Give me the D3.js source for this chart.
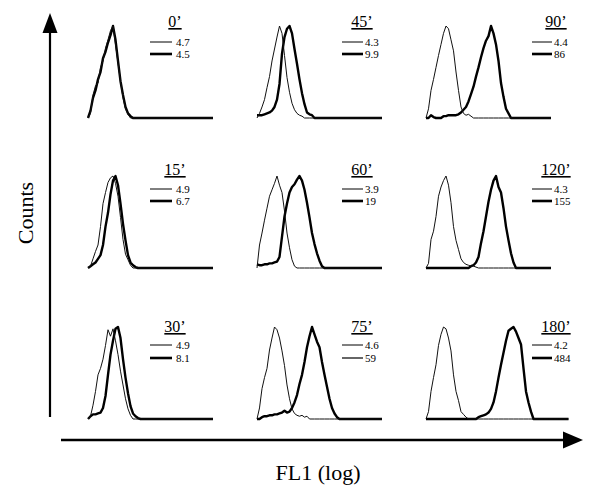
<!DOCTYPE html>
<html><head><meta charset="utf-8">
<script src="https://cdn.jsdelivr.net/npm/d3@7"></script>
<style>body{margin:0;background:#fff} svg{display:block}</style>
</head><body><svg id="c" width="600" height="500"></svg>
<script>
// ---------- DATA ----------
// Panels in reading order (row by row)
const timeLabels = ["0\u2019", "45\u2019", "90\u2019", "15\u2019", "60\u2019", "120\u2019", "30\u2019", "75\u2019", "180\u2019"];
const controlMFI = ["4.7", "4.3", "4.4", "4.9", "3.9", "4.3", "4.9", "4.6", "4.2"];
const sampleMFI  = ["4.5", "9.9", "86", "6.7", "19", "155", "8.1", "59", "484"];

// Histogram counts (% of peak) per FL1 channel bin, starting at given bin
const controlStart = [0, 0, 0, 0, 0, 0, 0, 0, 0];
const controlCounts = [
  [0, 5, 25, 35, 38, 55, 62, 76, 85, 95, 100, 80, 60, 40, 22, 10, 4, 0],
  [0, 5, 12, 20, 33, 45, 62, 75, 88, 100, 92, 68, 44, 28, 16, 9, 5, 3, 2, 0],
  [0, 10, 30, 42, 55, 68, 80, 92, 100, 97, 85, 73, 50, 30, 12, 5, 3, 4, 2, 0],
  [0, 2, 10, 18, 25, 45, 70, 82, 93, 98, 100, 92, 78, 55, 31, 15, 9, 3, 0],
  [0, 25, 38, 52, 65, 78, 85, 92, 100, 90, 82, 62, 38, 22, 9, 2, 0],
  [0, 5, 31, 40, 56, 78, 88, 95, 100, 90, 71, 45, 30, 20, 10, 6, 4, 3, 2, 2, 1, 0],
  [0, 3, 15, 30, 48, 55, 65, 80, 97, 90, 98, 85, 70, 52, 37, 22, 11, 4, 0],
  [0, 12, 33, 45, 55, 75, 88, 100, 97, 88, 74, 58, 37, 22, 11, 6, 4, 3, 4, 2, 3, 0],
  [0, 8, 30, 45, 59, 80, 92, 100, 98, 88, 74, 48, 30, 20, 8, 5, 2, 0]
];
const sampleStart = [0, 0, 0, 0, 0, 17, 0, 0, 20];
const sampleCounts = [
  [0, 8, 22, 30, 42, 50, 65, 72, 82, 90, 100, 85, 62, 40, 25, 12, 5, 2, 0],
  [3, 3, 3, 4, 5, 6, 8, 12, 20, 37, 70, 88, 97, 100, 92, 75, 59, 42, 27, 15, 6, 4, 3, 0],
  [0, 0, 3, 1, 0, 0, 0, 2, 2, 3, 3, 3, 3, 4, 6, 9, 12, 18, 26, 34, 45, 55, 66, 76, 84, 89, 100, 92, 80, 62, 38, 23, 10, 5, 0],
  [0, 2, 4, 6, 10, 14, 25, 45, 60, 80, 95, 100, 90, 70, 48, 30, 14, 6, 3, 1, 0],
  [4, 3, 3, 4, 4, 5, 5, 6, 7, 12, 34, 56, 70, 82, 88, 91, 96, 100, 95, 85, 71, 55, 38, 26, 16, 8, 2, 0],
  [0, 2, 3, 6, 12, 27, 40, 56, 72, 85, 95, 100, 88, 82, 65, 45, 30, 16, 6, 0],
  [0, 3, 5, 5, 6, 7, 12, 25, 48, 70, 85, 98, 100, 88, 65, 45, 28, 14, 6, 3, 1, 0],
  [0, 0, 2, 3, 3, 4, 4, 5, 5, 6, 7, 9, 7, 8, 12, 18, 26, 38, 48, 62, 78, 90, 100, 92, 84, 78, 62, 48, 35, 22, 12, 6, 2, 0],
  [0, 2, 3, 4, 5, 7, 11, 18, 30, 45, 59, 72, 85, 96, 98, 100, 95, 88, 81, 55, 30, 18, 8, 0]
];
const axisLabelX = "FL1 (log)";
const axisLabelY = "Counts";

// ---------- LAYOUT ----------
const colX0 = [88, 257, 426];
const rowBase = [118, 268, 419];
const panelH = 92;
const binW = 2.5;
const panelBins = [50, 50, 50, 50, 50, 50, 50, 50, 57];
const titleCX = [175, 362, 556];
const legX1 = [150, 342, 532], legX2 = [172, 363, 552], legTX = [176, 365, 554];
const titleDY = [-91, -93, -87];
const legDY1 = [-76, -79, -74];
const legDY2 = [-64, -67, -61];

const svg = d3.select("#c");
const font = "'Liberation Serif','Times New Roman',serif";

// Axes arrows
svg.append("line").attr("x1", 50).attr("y1", 417).attr("x2", 50).attr("y2", 30)
  .attr("stroke", "#000").attr("stroke-width", 2.2);
svg.append("path").attr("d", "M50,13 L57.5,33 L42.5,33 Z").attr("fill", "#000");
svg.append("line").attr("x1", 61).attr("y1", 440).attr("x2", 566).attr("y2", 440)
  .attr("stroke", "#000").attr("stroke-width", 2.4);
svg.append("path").attr("d", "M583,440 L563,431.5 L563,448.5 Z").attr("fill", "#000");

svg.append("text").attr("x", 318).attr("y", 480).attr("text-anchor", "middle")
  .attr("font-family", font).attr("font-size", 22).text(axisLabelX);
svg.append("text").attr("transform", "translate(33,213) rotate(-90)").attr("text-anchor", "middle")
  .attr("font-family", font).attr("font-size", 22).text(axisLabelY);

function padded(start, vals, n) {
  const out = [];
  for (let i = 0; i <= n; i++) {
    const j = i - start;
    out.push(j >= 0 && j < vals.length ? vals[j] : 0);
  }
  return out;
}

timeLabels.forEach((lab, k) => {
  const r = Math.floor(k / 3), c = k % 3;
  const x0 = colX0[c], base = rowBase[r], n = panelBins[k];
  const x = d3.scaleLinear().domain([0, n]).range([x0, x0 + n * binW]);
  const y = d3.scaleLinear().domain([0, 100]).range([base, base - panelH]);
  const line = d3.line().x((d, i) => x(i)).y(d => y(d));
  const g = svg.append("g");
  g.append("path").attr("d", line(padded(sampleStart[k], sampleCounts[k], n)))
    .attr("fill", "none").attr("stroke", "#000").attr("stroke-width", 2.4).attr("stroke-linejoin", "round");
  g.append("path").attr("d", line(padded(controlStart[k], controlCounts[k], n)))
    .attr("fill", "none").attr("stroke", "#111").attr("stroke-width", 1);

  // title with underline
  g.append("text").attr("x", titleCX[c]).attr("y", base + titleDY[r])
    .attr("text-anchor", "middle").attr("font-family", font).attr("font-size", 16)
    .attr("text-decoration", "underline").text(lab);

  // legend
  g.append("line").attr("x1", legX1[c]).attr("x2", legX2[c])
    .attr("y1", base + legDY1[r]).attr("y2", base + legDY1[r]).attr("stroke", "#000").attr("stroke-width", 1);
  g.append("line").attr("x1", legX1[c]).attr("x2", legX2[c])
    .attr("y1", base + legDY2[r]).attr("y2", base + legDY2[r]).attr("stroke", "#000")
    .attr("stroke-width", k === 7 ? 1.2 : 2.6);
  g.append("text").attr("x", legTX[c]).attr("y", base + legDY1[r] + 4)
    .attr("font-family", font).attr("font-size", 11).text(controlMFI[k]);
  g.append("text").attr("x", legTX[c]).attr("y", base + legDY2[r] + 4)
    .attr("font-family", font).attr("font-size", 11).text(sampleMFI[k]);
});
</script>
</body></html>
